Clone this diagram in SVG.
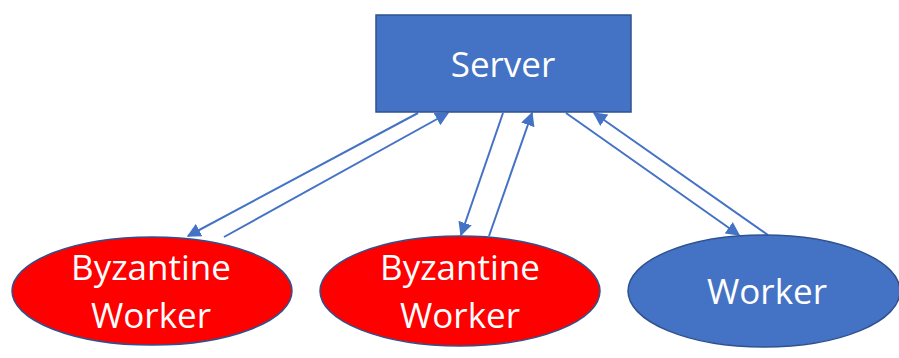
<svg xmlns="http://www.w3.org/2000/svg" width="899" height="358" viewBox="0 0 899 358">
<defs>
<style>
.shape{fill:#4472C4;stroke:#2F528F;stroke-width:1.5}
.byz{fill:#FF0000;stroke:#2F528F;stroke-width:1.5}
.lbl{font-family:"Open Sans","Liberation Sans",sans-serif;font-size:35px;fill:#FFFFFF;text-anchor:middle}
.conn{stroke:#4472C4;stroke-width:2;fill:none;marker-end:url(#arr)}
</style>
<marker id="arr" viewBox="0 0 10 10" refX="9" refY="5" markerWidth="7" markerHeight="7" orient="auto" markerUnits="strokeWidth">
<path d="M0,0 L10,5 L0,10 z" fill="#4472C4"/>
</marker>
</defs>
<rect width="899" height="358" fill="#FFFFFF"/>
<g id="connectors">
<line class="conn" x1="418" y1="113" x2="188" y2="236"/>
<line class="conn" x1="224" y1="237" x2="448" y2="113"/>
<line class="conn" x1="503" y1="113" x2="461" y2="235"/>
<line class="conn" x1="489" y1="236" x2="532" y2="113"/>
<line class="conn" x1="566" y1="113" x2="739" y2="235"/>
<line class="conn" x1="768" y1="235" x2="594" y2="113"/>
</g>
<g id="server">
<rect class="shape" x="376" y="15" width="255" height="97"/>
<text class="lbl" x="503" y="77">Server</text>
</g>
<g id="byzantine1">
<ellipse class="byz" cx="152" cy="291" rx="140" ry="54"/>
<text class="lbl" x="151" y="280">Byzantine</text>
<text class="lbl" x="151" y="328">Worker</text>
</g>
<g id="byzantine2">
<ellipse class="byz" cx="460" cy="291" rx="140" ry="55"/>
<text class="lbl" x="460" y="280">Byzantine</text>
<text class="lbl" x="460" y="328">Worker</text>
</g>
<g id="worker">
<ellipse class="shape" cx="764" cy="291" rx="136" ry="56"/>
<text class="lbl" x="767" y="304">Worker</text>
</g>
</svg>
